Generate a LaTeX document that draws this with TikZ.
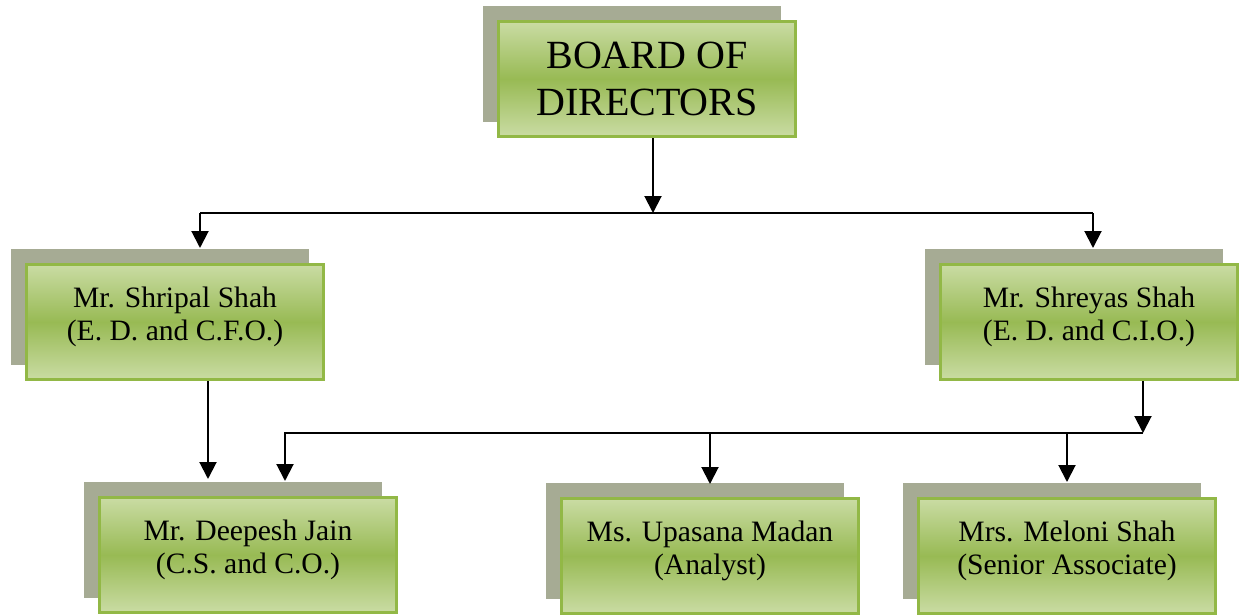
\documentclass[tikz,border=0pt]{standalone}
\usepackage{fontspec}
\setmainfont{Liberation Serif}
\usetikzlibrary{arrows.meta,shadows}

\definecolor{leafgreen}{RGB}{152,186,84}
\definecolor{leaflight}{RGB}{202,220,164}
\definecolor{leafedge}{RGB}{146,184,70}
\definecolor{shadegray}{RGB}{166,171,148}

\tikzset{
  post/.style={draw=leafedge, line width=1.3pt, top color=leaflight, bottom color=leaflight, middle color=leafgreen,
    minimum width=148.7pt, minimum height=57.7pt, inner sep=0pt, align=center,
    general shadow={fill=shadegray, shadow xshift=-7.5pt, shadow yshift=7.5pt}},
  staff/.style={post, font=\fontsize{14.8}{16.5}\selectfont, text depth=8pt},
  link/.style={line width=1pt, -{Triangle[width=8.5pt,length=8.5pt]}},
  bus/.style={line width=1pt}
}

\begin{document}
\begin{tikzpicture}[x=0.5pt,y=-0.5pt]
\useasboundingbox (0,0) rectangle (1239,616);

% nodes
\node[post, font=\fontsize{20}{23.5}\selectfont] (bod) at (647,79) {BOARD OF\\DIRECTORS};
\node[staff] (shripal) at (175,322) {Mr. Shripal Shah\\(E. D. and C.F.O.)};
\node[staff] (shreyas) at (1089,322) {Mr. Shreyas Shah\\(E. D. and C.I.O.)};
\node[staff] (deepesh) at (248,555) {Mr. Deepesh Jain\\(C.S. and C.O.)};
\node[staff] (upasana) at (710,556) {Ms. Upasana Madan\\(Analyst)};
\node[staff] (meloni) at (1067,556) {Mrs. Meloni Shah\\(Senior Associate)};

\coordinate (fork) at (653,213);
\coordinate (left1) at (200,213);
\coordinate (right1) at (1093,213);
\coordinate (right2) at (1143,433);
\coordinate (left2) at (285,433);

% connectors
\draw[link] (bod.south -| fork) -- (fork);
\draw[bus] (left1) -- (right1);
\draw[link, shorten >=7.5pt] (left1) -- (left1 |- shripal.north);
\draw[link, shorten >=7.5pt] (right1) -- (right1 |- shreyas.north);

\draw[link, shorten >=8.5pt] ([xshift=16.5pt]shripal.south) -- ([xshift=16.5pt]shripal.south |- deepesh.north);
\draw[link] (shreyas.south -| right2) -- (right2);
\draw[link, shorten >=7.5pt] (right2) -- (left2) -- (left2 |- deepesh.north);
\draw[link, shorten >=6.5pt] (upasana.north |- right2) -- (upasana.north);
\draw[link, shorten >=7.5pt] (meloni.north |- right2) -- (meloni.north);

\end{tikzpicture}
\end{document}
